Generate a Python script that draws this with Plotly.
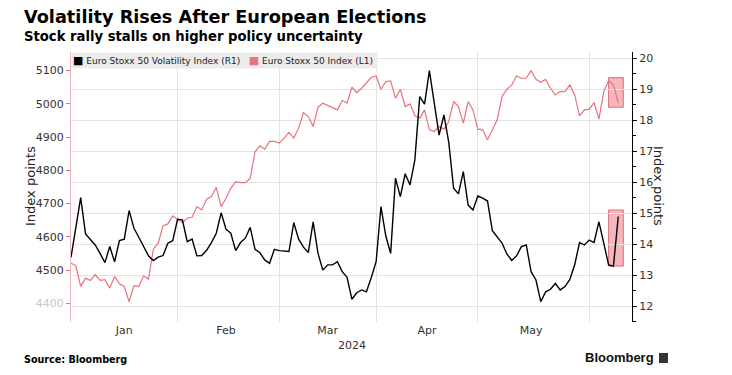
import pandas as pd
import plotly.graph_objects as go

# ---------------- data ----------------
holidays = ["2024-03-29", "2024-04-01"]
dates = [d for d in pd.bdate_range("2024-01-02", "2024-06-11")
         if d.strftime("%Y-%m-%d") not in holidays]

vstoxx = [
    13.57, 14.55, 15.50, 14.33, 14.16, 13.97, 13.70, 13.40, 13.92, 13.43,
    14.11, 14.16, 15.08, 14.51, 14.22, 13.92, 13.62, 13.47, 13.58, 13.63,
    14.03, 14.11, 14.80, 14.78, 14.08, 14.16, 13.62, 13.63, 13.80, 14.05,
    14.35, 15.01, 14.48, 14.35, 13.79, 14.05, 14.19, 14.54, 13.83, 13.72,
    13.49, 13.38, 13.83, 13.79, 13.78, 13.76, 14.69, 14.16, 13.90, 13.73,
    14.72, 13.70, 13.16, 13.33, 13.33, 13.43, 13.11, 12.93, 12.22, 12.43,
    12.52, 12.46, 12.92, 13.43, 15.21, 14.26, 13.70, 16.13, 15.53, 16.27,
    15.91, 16.72, 18.76, 18.52, 19.60, 18.49, 17.52, 18.17, 17.28, 15.80,
    15.62, 16.34, 15.26, 15.10, 15.55, 15.48, 15.39, 14.43, 14.24, 14.03,
    13.68, 13.47, 13.62, 13.92, 13.97, 13.11, 12.84, 12.14, 12.46, 12.54,
    12.73, 12.52, 12.63, 12.86, 13.33, 14.05, 13.97, 14.13, 14.05, 14.72,
    14.03, 13.33, 13.29, 14.89,
]

stoxx50 = [
    4521, 4513, 4451, 4476, 4469, 4486, 4469, 4471, 4446, 4481,
    4459, 4451, 4405, 4453, 4451, 4483, 4473, 4563, 4581, 4633,
    4639, 4663, 4653, 4643, 4656, 4659, 4691, 4681, 4713, 4721,
    4749, 4691, 4716, 4746, 4766, 4763, 4763, 4776, 4856, 4874,
    4864, 4887, 4887, 4882, 4897, 4914, 4897, 4927, 4974, 4962,
    4932, 4990, 5002, 4995, 4987, 4982, 5010, 5002, 5050, 5034,
    5047, 5062, 5080, 5084, 5044, 5067, 5069, 5017, 5044, 4992,
    5000, 4964, 4957, 4982, 4922, 4917, 4932, 4924, 4947, 5007,
    4992, 4942, 5007, 4982, 4924, 4922, 4892, 4922, 4952, 5022,
    5044, 5057, 5084, 5077, 5077, 5100, 5074, 5065, 5074, 5047,
    5027, 5037, 5037, 5057, 5027, 4964, 4982, 4984, 5004, 4954,
    5037, 5070, 5057, 5002,
]

month_labels = ["Jan", "Feb", "Mar", "Apr", "May"]
month_label_dates = ["2024-01-17", "2024-02-15", "2024-03-15", "2024-04-16 12:00", "2024-05-16"]
month_starts = ["2024-02-01", "2024-03-01", "2024-04-02", "2024-05-01", "2024-06-03"]

left_ticks = [4400, 4500, 4600, 4700, 4800, 4900, 5000, 5100]
right_ticks = [12, 13, 14, 15, 16, 17, 18, 19, 20]

name_vol = "Euro Stoxx 50 Volatility Index (R1)"
name_idx = "Euro Stoxx 50 Index (L1)"

BLACK = "#000000"
RED = "#e8737b"
FONT = "DejaVu Sans"

# ---------------- figure ----------------
fig = go.Figure()

fig.add_trace(go.Scatter(x=dates, y=stoxx50, mode="lines", yaxis="y",
                         line=dict(color=RED, width=1.2), name=name_idx))
fig.add_trace(go.Scatter(x=dates, y=vstoxx, mode="lines", yaxis="y2",
                         line=dict(color=BLACK, width=1.4), name=name_vol))

left_text = [str(v) for v in left_ticks]
left_text[0] = "<span style='color:#c8c8c8'>%s</span>" % left_text[0]

# page body has an 8px default margin, so the figure is 8px smaller
fig.update_layout(
    width=724, height=367,
    margin=dict(l=63, r=100, t=44, b=53, autoexpand=False),
    paper_bgcolor="white", plot_bgcolor="white",
    font=dict(family=FONT, size=11, color="#333333"),
    showlegend=False,
    xaxis=dict(
        type="date",
        range=["2024-01-02", "2024-06-13 20:00"],
        rangebreaks=[dict(bounds=["sat", "mon"]), dict(values=holidays)],
        tickmode="array", tickvals=month_label_dates, ticktext=month_labels,
        ticks="", showgrid=False, showline=False, zeroline=False,
        tickfont=dict(family=FONT, size=11, color="#333333"),
        minor=dict(tickmode="array", tickvals=month_starts, showgrid=True,
                   gridcolor="#e2e2e2", gridwidth=1, ticks=""),
    ),
    yaxis=dict(
        range=[4344, 5156], tickmode="array", tickvals=left_ticks, ticktext=left_text,
        showgrid=False, zeroline=False, showline=True, linecolor="#f3b8bc", linewidth=1,
        ticks="outside", ticklen=4, tickcolor=RED, tickwidth=1,
        tickfont=dict(family=FONT, size=11, color="#333333"),
    ),
    yaxis2=dict(
        overlaying="y", side="right", range=[11.485, 20.2],
        tickmode="array", tickvals=right_ticks,
        showgrid=True, gridcolor="#e2e2e2", gridwidth=1, zeroline=False,
        showline=True, linecolor="#000000", linewidth=1,
        ticks="outside", ticklen=4, tickcolor="#000000", tickwidth=1,
        minor=dict(dtick=0.5, ticks="outside", ticklen=3, tickcolor="#000000", showgrid=False),
        tickfont=dict(family=FONT, size=11, color="#333333"),
    ),
)

# highlight boxes around the post-election moves
fig.add_shape(type="rect", xref="x", yref="y", x0="2024-06-07", x1="2024-06-12 01:00",
              y0=4990, y1=5079, fillcolor="rgba(240,110,125,0.5)",
              line=dict(color="#d9707c", width=1), layer="below")
fig.add_shape(type="rect", xref="x", yref="y2", x0="2024-06-07", x1="2024-06-12 01:00",
              y0=13.29, y1=15.10, fillcolor="rgba(240,110,125,0.5)",
              line=dict(color="#d9707c", width=1), layer="below")

# Bloomberg logo block
fig.add_shape(type="rect", xref="paper", yref="paper", x0=1.0481, x1=1.0642,
              y0=-0.1519, y1=-0.1148, fillcolor="#333333", line=dict(width=0))

legend_text = ("<span style='color:%s;font-size:11px'>■</span> %s"
               "   <span style='color:%s;font-size:11px'>■</span> %s "
               % (BLACK, name_vol, RED, name_idx))

ann = [
    dict(text=legend_text, x=0.0, y=1.0, xanchor="left", yanchor="top",
         align="left", bgcolor="#ebebeb", borderpad=1,
         font=dict(family=FONT, size=9, color="#222222")),
    dict(text="Volatility Rises After European Elections", x=-0.0873, y=1.1296,
         xanchor="left", yanchor="middle",
         font=dict(family=FONT, size=17.7, color="#000000", weight="bold")),
    dict(text="Stock rally stalls on higher policy uncertainty", x=-0.0873, y=1.0556,
         xanchor="left", yanchor="middle",
         font=dict(family=FONT, size=13.2, color="#000000", weight="bold")),
    dict(text="Index points", x=-0.0731, y=0.5037, textangle=-90,
         xanchor="center", yanchor="middle",
         font=dict(family=FONT, size=13, color="#222222")),
    dict(text="Index points", x=1.0481, y=0.5037, textangle=90,
         xanchor="center", yanchor="middle",
         font=dict(family=FONT, size=13, color="#222222")),
    dict(text="2024", x=0.5009, y=-0.0852, xanchor="center", yanchor="middle",
         font=dict(family=FONT, size=11, color="#333333")),
    dict(text="Source: Bloomberg", x=-0.0873, y=-0.1407, xanchor="left", yanchor="middle",
         font=dict(family=FONT, size=9.6, color="#000000", weight="bold")),
    dict(text="Bloomberg", x=1.0428, y=-0.1333, xanchor="right", yanchor="middle",
         font=dict(family="Liberation Sans", size=13, color="#111111", weight="bold")),
]
for a in ann:
    a.update(xref="paper", yref="paper", showarrow=False)
    fig.add_annotation(**a)

fig.write_html("out.html")
